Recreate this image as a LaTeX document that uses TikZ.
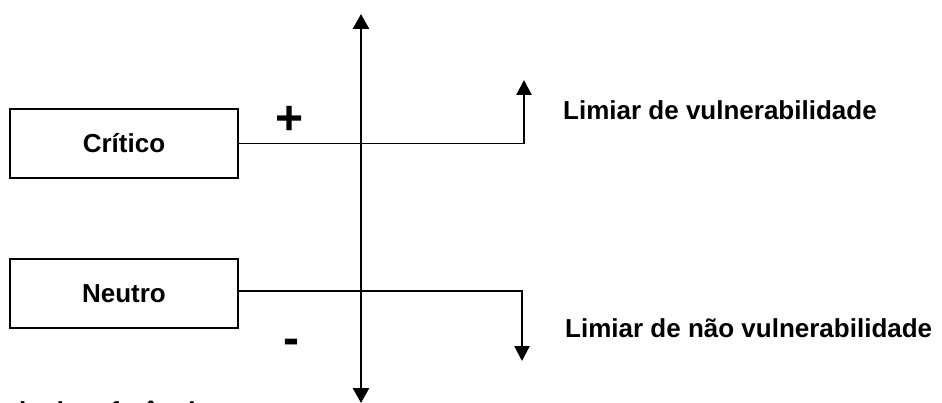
\documentclass[tikz,border=0pt]{standalone}
\usepackage{fontspec}
\setmainfont{Liberation Sans}
\usetikzlibrary{arrows.meta}
\tikzset{
  lbl/.style={font=\fontsize{26}{30}\selectfont\bfseries, inner sep=0pt},
  boxnode/.style={draw, line width=1.7pt, minimum width=228pt, minimum height=69pt, inner sep=0pt, font=\fontsize{26}{30}\selectfont\bfseries},
  signnode/.style={font=\fontsize{48}{48}\selectfont\bfseries, inner sep=0pt},
  hline/.style={line width=1.6pt},
  axis/.style={line width=2.6pt, -{Triangle[width=16pt,length=15pt]}},
  sidearrow/.style={line width=2.2pt, -{Triangle[width=15pt,length=15pt]}}
}
\begin{document}
\begin{tikzpicture}[x=1pt,y=-1pt]
\useasboundingbox (0,0) rectangle (942,403);
\clip (0,0) rectangle (942,403);
\fill[white] (0,0) rectangle (942,403);
% boxes
\node[boxnode] (crit) at (124,143.5) {Crítico};
\node[boxnode] (neut) at (124,293.5) {Neutro};
% axis
\coordinate (amid) at (361,210);
\coordinate (atop) at (361,14);
\coordinate (abot) at (361,403);
\draw[axis] (amid) -- (atop);
\draw[axis] (amid) -- (abot);
% critico line
\coordinate (c1) at (524,143.5);
\coordinate (t1) at (524,80);
\draw[hline] (crit.east) -- (c1);
\draw[sidearrow] ([yshift=-0.8pt]c1) -- (t1);
% neutro line
\coordinate (c2) at (522,291);
\coordinate (t2) at (522,361);
\draw[hline] ([yshift=2.5pt,xshift=-2pt]neut.east) -- (c2);
\draw[sidearrow] ([yshift=0.8pt]c2) -- (t2);
% signs
\node[signnode] (plus) at (290,120) {+};
\node[signnode] (minus) at (291,347) {-};
% labels
\node[lbl, anchor=base west] (l1) at (563,120) {Limiar de vulnerabilidade};
\node[lbl, anchor=base west] (l2) at (565,337) {Limiar de não vulnerabilidade};
% cropped caption
\node[lbl, anchor=base west] (cap) at (-98,420.5) {Frequência de referência};
\end{tikzpicture}
\end{document}
